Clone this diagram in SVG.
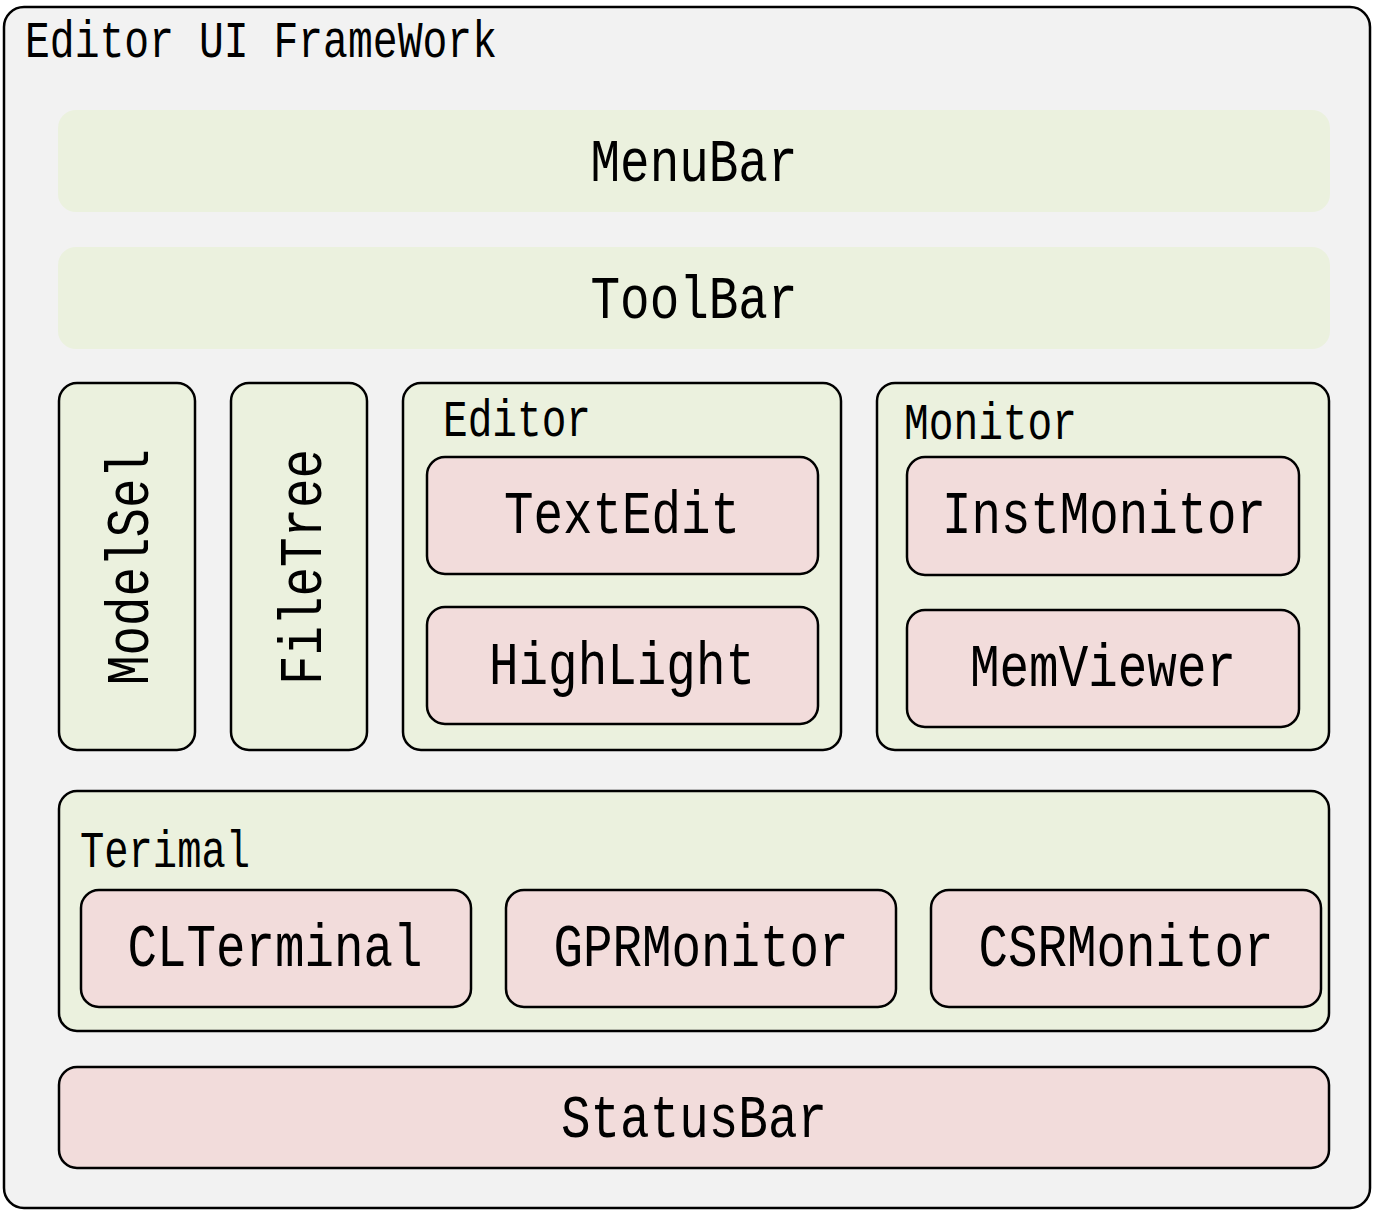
<svg xmlns="http://www.w3.org/2000/svg" width="1373" height="1211" viewBox="0 0 1373 1211">
<style>
.box{stroke:#000;stroke-width:2.5}
.g{fill:#ebf1de}
.p{fill:#f2dcdb}
.t{font-family:"Liberation Mono","DejaVu Sans Mono",monospace;fill:#000}
.big{font-size:62px;text-anchor:middle}
.sm{font-size:51px}
</style>
<rect width="1373" height="1211" fill="#ffffff"/>
<g id="framework">
<rect x="4" y="7" width="1366" height="1201" rx="20" fill="#f2f2f2" class="box"/>
<text class="t sm" x="25" y="57" textLength="472" lengthAdjust="spacingAndGlyphs">Editor UI FrameWork</text>
</g>
<g id="menubar">
<rect x="58" y="110" width="1272" height="102" rx="18" class="g"/>
<text class="t big" x="694" y="181" textLength="207" lengthAdjust="spacingAndGlyphs">MenuBar</text>
</g>
<g id="toolbar">
<rect x="58" y="247" width="1272" height="102" rx="18" class="g"/>
<text class="t big" x="694" y="318" textLength="207" lengthAdjust="spacingAndGlyphs">ToolBar</text>
</g>
<g id="modelsel">
<rect x="59" y="383" width="136" height="367" rx="18" class="box g"/>
<text class="t big" transform="translate(148 567) rotate(-90)" x="0" y="0" textLength="236" lengthAdjust="spacingAndGlyphs">ModelSel</text>
</g>
<g id="filetree">
<rect x="231" y="383" width="136" height="367" rx="18" class="box g"/>
<text class="t big" transform="translate(321 567) rotate(-90)" x="0" y="0" textLength="236" lengthAdjust="spacingAndGlyphs">FileTree</text>
</g>
<g id="editor">
<rect x="403" y="383" width="438" height="367" rx="18" class="box g"/>
<text class="t sm" x="443" y="436" textLength="148" lengthAdjust="spacingAndGlyphs">Editor</text>
</g>
<g id="textedit">
<rect x="427" y="457" width="391" height="117" rx="18" class="box p"/>
<text class="t big" x="622" y="533" textLength="236" lengthAdjust="spacingAndGlyphs">TextEdit</text>
</g>
<g id="highlight">
<rect x="427" y="607" width="391" height="117" rx="18" class="box p"/>
<text class="t big" x="622" y="684" textLength="266" lengthAdjust="spacingAndGlyphs">HighLight</text>
</g>
<g id="monitor">
<rect x="877" y="383" width="452" height="367" rx="18" class="box g"/>
<text class="t sm" x="904" y="439" textLength="173" lengthAdjust="spacingAndGlyphs">Monitor</text>
</g>
<g id="instmonitor">
<rect x="907" y="457" width="392" height="118" rx="18" class="box p"/>
<text class="t big" x="1104" y="533" textLength="324" lengthAdjust="spacingAndGlyphs">InstMonitor</text>
</g>
<g id="memviewer">
<rect x="907" y="610" width="392" height="117" rx="18" class="box p"/>
<text class="t big" x="1103" y="686" textLength="266" lengthAdjust="spacingAndGlyphs">MemViewer</text>
</g>
<g id="terimal">
<rect x="59" y="791" width="1270" height="240" rx="18" class="box g"/>
<text class="t sm" x="80" y="867" textLength="170" lengthAdjust="spacingAndGlyphs">Terimal</text>
</g>
<g id="clterminal">
<rect x="81" y="890" width="390" height="117" rx="18" class="box p"/>
<text class="t big" x="275" y="966" textLength="295" lengthAdjust="spacingAndGlyphs">CLTerminal</text>
</g>
<g id="gprmonitor">
<rect x="506" y="890" width="390" height="117" rx="18" class="box p"/>
<text class="t big" x="701" y="966" textLength="295" lengthAdjust="spacingAndGlyphs">GPRMonitor</text>
</g>
<g id="csrmonitor">
<rect x="931" y="890" width="390" height="117" rx="18" class="box p"/>
<text class="t big" x="1126" y="966" textLength="295" lengthAdjust="spacingAndGlyphs">CSRMonitor</text>
</g>
<g id="statusbar">
<rect x="59" y="1067" width="1270" height="101" rx="18" class="box p"/>
<text class="t big" x="694" y="1137" textLength="266" lengthAdjust="spacingAndGlyphs">StatusBar</text>
</g>
<g id="connectors"/>
</svg>
